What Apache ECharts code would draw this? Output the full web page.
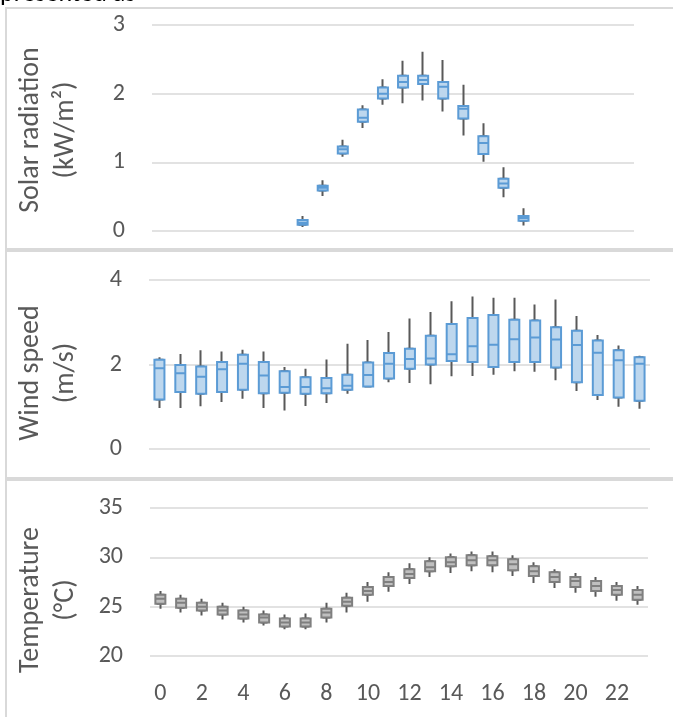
<!DOCTYPE html>
<html>
<head>
<meta charset="utf-8">
<title>Hourly boxplots</title>
<script src="https://cdn.jsdelivr.net/npm/echarts@6/dist/echarts.min.js"></script>
<style>
  html, body { margin: 0; padding: 0; background: #fff; }
  #chart { width: 673px; height: 717px; }
</style>
</head>
<body>
<div id="chart"></div>
<script>
'use strict';

var hours = [];
for (var h = 0; h < 24; h++) { hours.push(String(h)); }

// solar radiation (kW/m2), night hours left empty
var solarMin = [null, null, null, null, null, null, null, 0.06, 0.51, 1.08, 1.50, 1.84, 1.86, 1.90, 1.74, 1.39, 1.01, 0.49, 0.08, null, null, null, null, null];
var solarQ1  = [null, null, null, null, null, null, null, 0.09, 0.59, 1.13, 1.59, 1.93, 2.09, 2.14, 1.93, 1.64, 1.12, 0.63, 0.15, null, null, null, null, null];
var solarMed = [null, null, null, null, null, null, null, 0.12, 0.63, 1.19, 1.65, 2.00, 2.17, 2.20, 2.10, 1.78, 1.28, 0.69, 0.19, null, null, null, null, null];
var solarQ3  = [null, null, null, null, null, null, null, 0.16, 0.66, 1.23, 1.77, 2.09, 2.26, 2.26, 2.17, 1.82, 1.38, 0.76, 0.22, null, null, null, null, null];
var solarMax = [null, null, null, null, null, null, null, 0.22, 0.74, 1.33, 1.83, 2.21, 2.48, 2.61, 2.49, 2.13, 1.57, 0.93, 0.33, null, null, null, null, null];

// wind speed (m/s)
var windMin = [0.97, 0.97, 1.01, 1.11, 1.19, 0.97, 0.91, 1.02, 1.09, 1.31, 1.47, 1.58, 1.56, 1.53, 1.72, 1.73, 1.76, 1.84, 1.83, 1.63, 1.37, 1.16, 1.00, 0.95];
var windQ1  = [1.17, 1.35, 1.31, 1.35, 1.40, 1.32, 1.33, 1.31, 1.32, 1.40, 1.48, 1.67, 1.90, 2.00, 2.08, 2.06, 1.94, 2.06, 2.06, 1.93, 1.58, 1.28, 1.22, 1.14];
var windMed = [1.91, 1.79, 1.71, 1.89, 2.02, 1.74, 1.47, 1.47, 1.44, 1.50, 1.75, 2.02, 2.13, 2.14, 2.24, 2.43, 2.47, 2.60, 2.64, 2.59, 2.46, 2.28, 2.10, 2.02];
var windQ3  = [2.11, 1.99, 1.95, 2.06, 2.23, 2.06, 1.84, 1.70, 1.68, 1.76, 2.05, 2.27, 2.37, 2.68, 2.96, 3.10, 3.17, 3.06, 3.04, 2.88, 2.80, 2.57, 2.34, 2.17];
var windMax = [2.17, 2.25, 2.34, 2.31, 2.35, 2.31, 1.94, 1.90, 2.12, 2.49, 2.58, 2.77, 3.09, 3.24, 3.50, 3.61, 3.58, 3.58, 3.42, 3.54, 3.15, 2.70, 2.45, 2.21];

// temperature (°C)
var tempMin = [24.8, 24.4, 24.1, 23.7, 23.4, 23.1, 22.7, 22.7, 23.4, 24.4, 25.5, 26.5, 27.3, 28.0, 28.4, 28.6, 28.5, 28.1, 27.4, 26.9, 26.4, 26.0, 25.6, 25.2];
var tempQ1  = [25.3, 24.9, 24.6, 24.2, 23.8, 23.4, 23.0, 23.0, 23.9, 25.1, 26.2, 27.1, 27.9, 28.6, 29.1, 29.2, 29.2, 28.7, 28.1, 27.5, 27.0, 26.6, 26.2, 25.7];
var tempMed = [25.8, 25.4, 25.0, 24.6, 24.2, 23.9, 23.4, 23.4, 24.4, 25.5, 26.6, 27.5, 28.3, 29.0, 29.5, 29.7, 29.7, 29.3, 28.6, 28.0, 27.6, 27.1, 26.7, 26.2];
var tempQ3  = [26.2, 25.8, 25.4, 25.0, 24.6, 24.2, 23.8, 23.8, 24.8, 25.9, 27.0, 28.0, 28.8, 29.6, 30.0, 30.2, 30.1, 29.8, 29.1, 28.5, 28.0, 27.6, 27.1, 26.7];
var tempMax = [26.6, 26.2, 25.8, 25.4, 25.0, 24.6, 24.2, 24.3, 25.4, 26.4, 27.5, 28.5, 29.4, 30.0, 30.4, 30.6, 30.6, 30.2, 29.5, 28.8, 28.4, 28.0, 27.5, 27.1];

var font = 'Carlito, Lato, sans-serif';
var textGrey = '#595959';
var gridGrey = '#d9d9d9';

// whiskers: candlestick without caps -> [open, close, low, high]
function whiskerData(mn, q1, q3, mx) {
  return q1.map(function (v, i) {
    if (v === null) { return ['-', '-', '-', '-']; }
    return [q1[i], q3[i], mn[i], mx[i]];
  });
}
// box with median, whiskers collapsed into the box
function boxData(q1, md, q3) {
  return q1.map(function (v, i) {
    if (v === null) { return ['-', '-', '-', '-', '-']; }
    return [q1[i], q1[i], md[i], q3[i], q3[i]];
  });
}

function makeX(idx, showLabels) {
  return {
    type: 'category', gridIndex: idx, data: hours,
    axisLine: { show: false }, axisTick: { show: false },
    axisLabel: {
      show: showLabels, interval: 1, margin: 26,
      color: textGrey, fontSize: 24, fontFamily: font
    }
  };
}
function makeY(idx, min, max, step) {
  return {
    type: 'value', gridIndex: idx, min: min, max: max, interval: step,
    axisLine: { show: false }, axisTick: { show: false },
    axisLabel: { margin: 27, color: textGrey, fontSize: 24, fontFamily: font },
    splitLine: { lineStyle: { color: gridGrey, width: 1.5 } }
  };
}
function makeSeries(idx, mn, q1, md, q3, mx, fill, edge) {
  return [{
    type: 'candlestick', xAxisIndex: idx, yAxisIndex: idx,
    barWidth: 6, z: 2,
    itemStyle: {
      color: 'transparent', color0: 'transparent',
      borderColor: '#595959', borderColor0: '#595959', borderWidth: 2
    },
    data: whiskerData(mn, q1, q3, mx)
  }, {
    type: 'boxplot', xAxisIndex: idx, yAxisIndex: idx,
    boxWidth: [10, 10], z: 3,
    itemStyle: { color: fill, borderColor: edge, borderWidth: 2 },
    data: boxData(q1, md, q3)
  }];
}

function title(lines, cx, cy) {
  return lines.map(function (t, i) {
    return {
      type: 'text', x: cx[i], y: cy, rotation: Math.PI / 2,
      style: {
        text: t, fill: textGrey, font: '28px ' + font,
        align: 'center', verticalAlign: 'middle'
      }
    };
  });
}

var chart = echarts.init(document.getElementById('chart'));

var graphics = [
  { type: 'rect', shape: { x: 6, y: 8, width: 720, height: 241 }, style: { fill: 'none', stroke: gridGrey, lineWidth: 2 } },
  { type: 'rect', shape: { x: 6, y: 251, width: 720, height: 227 }, style: { fill: 'none', stroke: gridGrey, lineWidth: 2 } },
  { type: 'rect', shape: { x: 6, y: 480, width: 720, height: 260 }, style: { fill: 'none', stroke: gridGrey, lineWidth: 2 } },
  { type: 'text', x: 0, y: -6, style: { text: 'presented as', fill: '#000', font: '26px ' + font, verticalAlign: 'middle' } }
]
  .concat(title(['Solar radiation', '(kW/m²)'], [31, 66], 130))
  .concat(title(['Wind speed', '(m/s)'], [31, 66], 373))
  .concat(title(['Temperature', '(°C)'], [31, 66], 600));

chart.setOption({
  animation: false,
  backgroundColor: '#fff',
  grid: [
    { left: 152, right: 39, top: 25, height: 206 },
    { left: 149, right: 23, top: 280, height: 169 },
    { left: 150, right: 25, top: 508, height: 148 }
  ],
  xAxis: [makeX(0, false), makeX(1, false), makeX(2, true)],
  yAxis: [makeY(0, 0, 3, 1), makeY(1, 0, 4, 2), makeY(2, 20, 35, 5)],
  graphic: graphics,
  series: []
    .concat(makeSeries(0, solarMin, solarQ1, solarMed, solarQ3, solarMax, '#bdd7ee', '#5b9bd5'))
    .concat(makeSeries(1, windMin, windQ1, windMed, windQ3, windMax, '#bdd7ee', '#5b9bd5'))
    .concat(makeSeries(2, tempMin, tempQ1, tempMed, tempQ3, tempMax, '#bfbfbf', '#7f7f7f'))
});
</script>
</body>
</html>
